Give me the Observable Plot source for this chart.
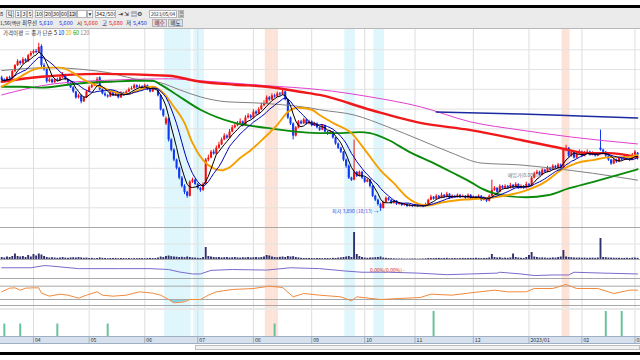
<!DOCTYPE html>
<html><head><meta charset="utf-8">
<script src="https://cdn.jsdelivr.net/npm/d3@7"></script>
<script src="https://cdn.jsdelivr.net/npm/@observablehq/plot@0.6"></script>
<style>
html,body{margin:0;padding:0;background:#fff;}
#root{position:relative;width:640px;height:360px;overflow:hidden;font-family:"Noto Sans CJK KR","DejaVu Sans",sans-serif;color:#222;}
#root svg{position:absolute;left:0;}
.a{position:absolute;white-space:nowrap;font-size:5.5px;line-height:8px;z-index:5;}
.bx{position:absolute;top:10px;height:8px;box-sizing:border-box;border:1px solid #b4b4b4;background:#f7f7f7;font-size:5.5px;line-height:6px;text-align:center;white-space:nowrap;z-index:5;overflow:hidden;}
.sep{position:absolute;left:0;width:640px;height:1px;z-index:4;}
</style></head>
<body><div id="root">
<div style="position:absolute;left:0;top:5px;width:640px;height:3px;background:#000"></div>
<div style="position:absolute;left:0;top:8px;width:640px;height:20px;background:#ebebeb"></div>
<span class="a" style="left:0;top:10px">8</span>
<div class="bx" style="left:6px;width:8px">틱</div>
<div class="bx" style="left:15px;width:6px">1</div>
<div class="bx" style="left:21px;width:6px">3</div>
<div class="bx" style="left:27px;width:6px">5</div>
<div class="bx" style="left:35px;width:8px">10</div>
<div class="bx" style="left:44px;width:8px">20</div>
<div class="bx" style="left:52px;width:8px">30</div>
<div class="bx" style="left:60px;width:8px">60</div>
<div class="bx" style="left:68px;width:9px;background:#e2e2e2">120</div>
<div class="bx" style="left:77px;width:10px;background:#fff"></div>
<div class="bx" style="left:87px;width:6px">▾</div>
<div class="bx" style="left:95px;width:21px;background:#fff">342/500</div>
<span class="a" style="left:118px;top:10px;font-size:6px">⇥</span>
<span class="a" style="left:124px;top:10px;font-size:6px">⇲</span>
<span class="a" style="left:131px;top:10px;font-size:6px">▤</span>
<span class="a" style="left:137px;top:10px;font-size:6px">⚙</span>
<div class="bx" style="left:149px;width:28px;background:#fff;font-size:4.8px;letter-spacing:-0.1px">2023/05/04</div>
<div class="bx" style="left:178px;width:6px">▦</div>
<span class="a" style="left:0px;top:19px;font-size:5px">1,56(백만</span>
<span class="a" style="left:22px;top:19px">최우선</span>
<span class="a" style="left:39px;top:19px;color:#1030e0">5,610</span>
<span class="a" style="left:59px;top:19px;color:#1030e0">5,600</span>
<span class="a" style="left:77px;top:19px">시</span>
<span class="a" style="left:84px;top:19px;color:#e01010">5,660</span>
<span class="a" style="left:102px;top:19px">고</span>
<span class="a" style="left:109px;top:19px;color:#e01010">5,680</span>
<span class="a" style="left:126px;top:19px">저</span>
<span class="a" style="left:133px;top:19px;color:#1030e0">5,450</span>
<div class="bx" style="left:152px;top:19px;width:15px;background:#f6d3dc">매수</div>
<div class="bx" style="left:168px;top:19px;width:15px;background:#cfe3f6">매도</div>
<span class="a" style="left:3px;top:29px;color:#333">가격이평 ≡ 종가 단순 <span style="color:#000">5</span> <span style="color:#0000d0">10</span> <span style="color:#e89a00">20</span> <span style="color:#00a000">60</span> <span style="color:#888">120</span></span>
<div class="sep" style="top:28px;background:#b8b8b8"></div>
<div class="sep" style="top:227px;background:#a8a8a8"></div>
<div class="sep" style="top:259px;background:#a8a8a8"></div>
<div class="sep" style="top:278px;background:#a8a8a8"></div>
<div class="sep" style="top:305px;background:#a8a8a8"></div>
<div style="position:absolute;left:0;top:336px;width:640px;height:8px;box-sizing:border-box;background:#d7e1ed;border-top:1px solid #9fb0c6;border-bottom:1px solid #9fb0c6"></div>
<div style="position:absolute;left:195px;top:345px;width:445px;height:5px;box-sizing:border-box;border:1px solid #bdbdbd;background:#f2f2f2"></div>
<div style="position:absolute;left:0;top:352px;width:640px;height:3px;background:#000"></div>
</div>
<script>
// ---------- data ----------
const monthIdx = [12,33,54,74,95,117,137,156,178,199,219,239];
const monthLabels = ["04","05","06","07","08","09","10","11","12","2023/01","02","03"];
const priceGrid = [4000,4600,5200,5800,6400,7000,7600,8200,8800];

const open = [
7950,7890,7830,7950,7920,8140,8320,8440,8380,8500,
8440,8620,8690,8750,8720,8900,8320,8200,7830,7890,
7800,7890,7860,7950,8040,7890,7770,7650,7520,7340,
7400,7220,7340,7520,7650,7710,7770,7950,7590,7460,
7400,7370,7520,7400,7460,7340,7490,7430,7520,7590,
7620,7710,7650,7680,7620,7710,7590,7520,7650,7590,
7400,6980,6550,6700,6060,5750,5450,5200,4900,4650,
4470,4350,4780,4840,4710,4590,4530,4710,5450,5510,
5690,5630,5810,5910,6060,6180,6120,6300,6430,6490,
6550,6610,6490,6730,6790,6730,6910,6850,6980,7100,
7160,7340,7280,7400,7370,7460,7430,7520,7280,6730,
6550,6180,6430,6610,6550,6670,6550,6610,6490,6550,
6430,6360,6490,6300,6240,6300,6120,5940,5810,5690,
5450,5260,4900,4840,5080,4960,5080,4900,4780,4840,
4650,4350,4230,4100,3980,4160,4290,4230,4130,4200,
4100,4130,4070,4100,4040,4070,4040,4070,4040,4070,
4040,4100,4230,4320,4260,4350,4290,4380,4320,4410,
4290,4350,4320,4380,4320,4350,4290,4380,4260,4320,
4290,4350,4230,4290,4200,4350,4530,4590,4470,4650,
4590,4650,4590,4680,4620,4710,4590,4650,4590,4710,
4650,4900,5020,5080,4990,5140,5080,5200,5140,5260,
5200,5300,5200,5750,5810,5570,5690,5510,5630,5690,
5570,5660,5690,5600,5660,5570,5810,5750,5690,5570,
5450,5330,5450,5390,5510,5450,5540,5480,5450,5600,
5660];
const high = [
8000,7920,7980,8000,8170,8350,8500,8470,8560,8530,
8660,8750,8800,8810,9000,8950,8380,8230,7950,7920,
7930,7940,8000,8110,8060,7910,7800,7680,7540,7450,
7420,7380,7560,7700,7760,7800,7960,7980,7620,7500,
7440,7560,7540,7500,7480,7530,7510,7560,7640,7680,
7760,7740,7730,7710,7760,7730,7620,7680,7670,7610,
7420,7000,6760,6720,6100,5800,5480,5230,4950,4700,
4500,4820,4900,4870,4740,4620,4760,5500,5600,5740,
5760,5880,5990,6120,6250,6220,6380,6500,6560,6620,
6700,6640,6800,6860,6830,6980,6950,7040,7180,7250,
7400,7380,7460,7450,7520,7500,7590,7550,7300,6760,
6580,6470,6650,6660,6720,6700,6660,6640,6600,6580,
6460,6530,6510,6330,6350,6320,6140,5970,5840,5710,
5480,5300,4930,6060,5100,5120,5110,4930,4880,4860,
4670,4380,4260,4140,4200,4330,4310,4250,4230,4220,
4160,4150,4130,4120,4100,4090,4100,4090,4100,4090,
4140,4260,4380,4340,4400,4370,4450,4400,4470,4430,
4390,4380,4420,4400,4390,4370,4420,4400,4360,4350,
4390,4370,4330,4310,4390,4840,4640,4610,4700,4680,
4700,4680,4740,4710,4760,4730,4700,4680,4780,4740,
4950,5080,5140,5110,5190,5170,5260,5230,5310,5290,
5350,5330,5810,5900,5830,5740,5710,5680,5760,5720,
5710,5760,5720,5700,5680,5680,6360,5780,5710,5600,
5470,5490,5480,5550,5540,5590,5560,5510,5650,5740,
5680];
const low = [
7850,7800,7810,7890,7900,8100,8290,8330,8350,8400,
8420,8580,8650,8680,8700,8250,8150,7780,7800,7760,
7780,7820,7840,7920,7860,7740,7620,7480,7300,7310,
7160,7200,7320,7500,7620,7680,7750,7560,7430,7370,
7330,7350,7380,7380,7310,7320,7400,7410,7500,7570,
7600,7620,7630,7590,7600,7560,7490,7500,7560,7370,
6940,6750,6500,6000,5700,5400,5150,4850,4600,4400,
4290,4330,4740,4680,4550,4470,4500,4700,5400,5490,
5600,5600,5780,5890,6040,6080,6100,6280,6400,6460,
6520,6460,6470,6700,6690,6710,6810,6830,6960,7070,
7140,7240,7260,7330,7350,7390,7410,7250,6680,6500,
6060,6150,6400,6520,6530,6510,6520,6460,6470,6400,
6320,6340,6270,6200,6220,6090,5900,5770,5650,5400,
5200,4860,4800,4820,4920,4940,4860,4740,4760,4600,
4310,4190,4050,3890,3960,4140,4200,4100,4110,4070,
4080,4040,4050,4010,4020,4010,4020,4010,4020,4000,
4020,4080,4210,4230,4240,4260,4270,4290,4300,4250,
4270,4290,4300,4290,4300,4250,4270,4220,4240,4260,
4270,4190,4210,4160,4180,4330,4500,4440,4450,4560,
4570,4560,4570,4590,4600,4560,4570,4560,4570,4620,
4640,4880,5000,4960,4970,5050,5060,5110,5120,5170,
5180,5170,5180,5700,5520,5540,5480,5490,5600,5540,
5550,5630,5570,5580,5540,5550,5720,5660,5530,5410,
5290,5310,5350,5370,5420,5430,5450,5410,5430,5580,
5450];
const close = [
7890,7830,7950,7920,8140,8320,8440,8380,8500,8440,
8620,8690,8750,8720,8870,8320,8200,7830,7890,7800,
7890,7860,7950,8040,7890,7770,7650,7520,7340,7400,
7220,7340,7520,7650,7710,7770,7890,7590,7460,7400,
7370,7520,7400,7460,7340,7490,7430,7520,7590,7620,
7710,7650,7680,7620,7710,7590,7520,7650,7590,7400,
6980,6790,6700,6060,5750,5450,5200,4900,4650,4470,
4350,4780,4840,4710,4590,4530,4710,5450,5510,5690,
5630,5810,5910,6060,6180,6120,6300,6430,6490,6550,
6610,6490,6730,6790,6730,6910,6850,6980,7100,7160,
7340,7280,7400,7370,7460,7430,7520,7280,6730,6550,
6180,6430,6610,6550,6670,6550,6610,6490,6550,6430,
6360,6490,6300,6240,6300,6120,5940,5810,5690,5450,
5260,4900,4840,5080,4960,5080,4900,4780,4840,4650,
4350,4230,4100,3980,4160,4290,4230,4130,4200,4100,
4130,4070,4100,4040,4070,4040,4070,4040,4070,4040,
4100,4230,4320,4260,4350,4290,4380,4320,4410,4290,
4350,4320,4380,4320,4350,4290,4380,4260,4320,4290,
4350,4230,4290,4200,4350,4530,4590,4470,4650,4590,
4650,4590,4680,4620,4710,4590,4650,4590,4710,4650,
4900,5020,5080,4990,5140,5080,5200,5140,5260,5200,
5300,5200,5750,5810,5570,5690,5510,5630,5690,5570,
5660,5690,5600,5660,5570,5630,5750,5690,5570,5450,
5330,5450,5390,5510,5450,5540,5480,5450,5600,5690,
5600];
const volume = [
300,250,350,300,400,650,400,350,400,300,
500,350,600,450,650,550,400,300,250,280,
250,220,260,300,240,220,260,280,250,300,
260,220,250,200,220,180,200,260,220,200,
180,200,190,210,180,200,190,180,200,170,
190,180,200,190,180,200,210,190,200,250,
350,300,400,450,380,350,330,300,320,280,
350,300,260,240,220,200,300,1300,400,350,
300,280,300,260,280,300,250,270,300,260,
240,280,260,300,250,280,300,260,300,350,
500,450,350,300,280,320,350,300,400,350,
380,300,260,220,200,210,190,200,180,190,
200,180,190,200,180,220,200,240,260,300,
350,400,300,2800,600,400,300,250,220,240,
260,280,300,350,250,220,200,180,170,160,
150,160,150,140,150,160,150,140,150,160,
170,200,180,190,200,210,190,200,220,180,
190,200,180,190,210,200,190,210,200,220,
210,190,200,210,250,600,300,250,280,220,
240,220,260,650,300,250,220,200,300,500,
800,350,300,250,260,240,220,230,260,240,
300,350,1000,350,300,280,260,240,250,230,
240,220,230,240,220,250,2200,300,280,250,
240,230,220,230,210,220,230,200,240,250,
220];

// moving averages (candle index, price)
const ma20Idx = [0,7,12,16,22,27,31,35,40,44,48,50,54,57,61,65,69,72,76,80,83,86,90,94,99,104,108,112,117,120,125,132,138,143,148,153,158,161,166,172,177,186,198,205,211,217,223,230,236,240];
const ma20 = [7680,7980,8200,8260,8260,8100,7890,7740,7590,7490,7460,7520,7650,7680,7490,7070,6580,5970,5450,5200,5140,5230,5510,5750,6120,6520,6910,7040,6980,6820,6580,6270,5660,5140,4750,4320,4100,4070,4160,4230,4260,4320,4530,4780,5140,5360,5450,5540,5540,5600];
const ma60Idx = [0,7,15,25,32,41,50,57,60,65,75,88,100,113,120,128,135,139,146,154,163,172,177,181,189,198,206,214,223,231,240];
const ma60 = [7680,7680,7650,7740,7800,7830,7860,7860,7740,7490,6980,6580,6430,6300,6270,6270,6300,6270,6060,5690,5360,4990,4780,4590,4380,4320,4380,4590,4780,4960,5170];
const ma120Idx = [0,18,31,40,50,60,67,75,85,95,106,116,120,133,146,158,170,181,196,208,223,240];
const ma120 = [8170,8260,8200,8110,7920,7800,7590,7370,7220,7190,7130,7040,6980,6820,6450,6060,5660,5360,5300,5200,5050,4840];
const redIdx = [0,15,37,63,75,88,100,113,120,139,158,177,196,211,221,229,240];
const redLine = [7830,7980,8070,8010,7830,7740,7680,7520,7430,6980,6580,6360,6060,5810,5660,5660,5540];
const pinkIdx = [0,20,45,63,75,100,120,139,158,177,196,215,240];
const pinkLine = [7430,7770,7890,7920,7860,7710,7590,7370,7070,6610,6360,6150,5940];
const navyIdx = [164,196,218,240];
const navyLine = [6910,6850,6790,6730];

// sub-indicators
const purpleIdx = [0,11,16,18,29,44,56,63,67,72,75,79,87,100,109,120,130,136,146,157,168,177,187,188,196,201,208,214,216,227,240];
const purple = [62,62,77,75,56,56,56,50,33,19,19,44,50,46,62,56,39,31,31,25,14,19,25,31,19,8,12,12,31,25,19];
const rsiIdx = [0,3,5,7,9,12,14,15,18,22,25,29,32,36,38,42,47,52,57,60,63,65,69,71,75,78,81,87,95,101,106,110,114,120,128,132,134,143,150,158,162,170,177,186,191,198,201,208,213,217,225,231,237,240];
const rsi = [53,64,65,58,64,65,65,49,40,46,43,34,43,53,43,40,43,53,49,43,30,20,23,30,30,43,53,60,63,70,66,38,48,43,38,26,38,30,33,36,46,43,50,58,53,53,63,63,75,63,63,48,58,58];
const rsiLevels = [70,30];
const signalIdx = [1,7,21,40,103,163,228,234];
const signalLevel = [1,1,1,1,1,2,2,2];

// highlighted periods (candle index ranges)
const cyanStart = [62,73,130,141], cyanEnd = [71,76,133,144];
const pinkStart = [100,103,212], pinkEnd = [102,104,214];

const lowLabel = "최저 3,890 (10/13) →";
const lowAt = {i: 143, p: 3890};

// ---------- build ----------
const root = document.getElementById("root");
const FONT = '"Noto Sans CJK KR","DejaVu Sans",sans-serif';
const n = Math.min(open.length, high.length, low.length, close.length, volume.length);
const rows = d3.range(n).map(i => ({i, o: open[i], h: high[i], l: low[i], c: close[i], v: volume[i]}));
const up = rows.filter(d => d.c >= d.o), dn = rows.filter(d => d.c < d.o);
const ser = (idx, val) => idx.map((i, k) => ({i, v: val[k]}));
const cyanB = cyanStart.map((s, k) => ({s, e: cyanEnd[k]}));
const pinkB = pinkStart.map((s, k) => ({s, e: pinkEnd[k]}));

const bandMarks = () => [
  Plot.rect(cyanB, {x1: d => d.s - 0.5, x2: d => d.e + 0.5, fill: "#dff6fc"}),
  Plot.rect(pinkB, {x1: d => d.s - 0.5, x2: d => d.e + 0.5, fill: "#fde2d8"}),
  Plot.ruleX(monthIdx, {stroke: "#dedede", strokeWidth: 1})
];

function addPlot(top, height, yDomain, marks) {
  const el = Plot.plot({
    width: 640, height, margin: 0,
    x: {domain: [-0.45, 241.1], axis: null},
    y: {domain: yDomain, axis: null},
    style: {background: "none", fontFamily: FONT},
    marks
  });
  el.style.position = "absolute"; el.style.left = "0px"; el.style.top = top + "px";
  root.appendChild(el);
}

// price panel
addPlot(28, 199, [3401, 9448], [
  ...bandMarks(),
  Plot.ruleY(priceGrid, {stroke: "#e2e2e2"}),
  Plot.ruleX(up, {x: "i", y1: "l", y2: "h", stroke: "#f01010", strokeWidth: 1, clip: true}),
  Plot.ruleX(dn, {x: "i", y1: "l", y2: "h", stroke: "#1038f0", strokeWidth: 1, clip: true}),
  Plot.ruleX(up, {x: "i", y1: "o", y2: "c", stroke: "#f01010", strokeWidth: 2.1, clip: true}),
  Plot.ruleX(dn, {x: "i", y1: "o", y2: "c", stroke: "#1038f0", strokeWidth: 2.1, clip: true}),
  Plot.line(ser(ma120Idx, ma120), {x: "i", y: "v", stroke: "#808080", strokeWidth: 1, curve: "monotone-x", clip: true}),
  Plot.line(ser(pinkIdx, pinkLine), {x: "i", y: "v", stroke: "#e040d0", strokeWidth: 1, curve: "monotone-x", clip: true}),
  Plot.line(ser(navyIdx, navyLine), {x: "i", y: "v", stroke: "#1a2aa0", strokeWidth: 1.4, curve: "monotone-x", clip: true}),
  Plot.line(ser(redIdx, redLine), {x: "i", y: "v", stroke: "#f01818", strokeWidth: 2.4, curve: "monotone-x", clip: true}),
  Plot.line(ser(ma60Idx, ma60), {x: "i", y: "v", stroke: "#0a8a0a", strokeWidth: 1.9, curve: "monotone-x", clip: true}),
  Plot.line(ser(ma20Idx, ma20), {x: "i", y: "v", stroke: "#f5a000", strokeWidth: 1.9, curve: "monotone-x", clip: true}),
  Plot.line(rows, Plot.windowY({k: 10, anchor: "end", reduce: "mean"}, {x: "i", y: "c", stroke: "#0000b8", strokeWidth: 1, clip: true})),
  Plot.line(rows, Plot.windowY({k: 5, anchor: "end", reduce: "mean"}, {x: "i", y: "c", stroke: "#000", strokeWidth: 1, clip: true})),
  Plot.text([lowAt], {x: "i", y: "p", text: () => lowLabel, textAnchor: "end", dx: -2, fontSize: 5, fill: "#2a4ee0", fontFamily: FONT}),
  Plot.text([{i: 191, p: 4990}], {x: "i", y: "p", text: () => "매입가(0.00%)", textAnchor: "start", fontSize: 5, fill: "#777", fontFamily: FONT})
]);

// volume panel
addPlot(227, 33, [0, 3300], [
  ...bandMarks(),
  Plot.ruleY([1650], {stroke: "#e2e2e2"}),
  Plot.ruleX(rows, {x: "i", y1: 0, y2: "v", stroke: "#30306e", strokeWidth: 1.9})
]);

// purple indicator panel
addPlot(260, 18, [-12.5, 112.5], [
  ...bandMarks(),
  Plot.line(ser(purpleIdx, purple), {x: "i", y: "v", stroke: "#7a6acb", strokeWidth: 1}),
  Plot.text([{i: 139, v: 44}], {x: "i", y: "v", text: () => "0.00%(0.00%) -", textAnchor: "start", fontSize: 5, fill: "#e02020", fontFamily: FONT})
]);

// oscillator panel
addPlot(278, 28, [9, 93], [
  ...bandMarks(),
  Plot.areaY(ser(rsiIdx, rsi), {x: "i", y1: 30, y2: d => Math.min(d.v, 30), fill: "#7fcfe6"}),
  Plot.ruleY(rsiLevels, {stroke: "#a8a8a8"}),
  Plot.line(ser(rsiIdx, rsi), {x: "i", y: "v", stroke: "#f28a3c", strokeWidth: 1})
]);

// signal panel
addPlot(306, 30, [0, 2.4], [
  ...bandMarks(),
  Plot.ruleY([2.2], {stroke: "#e8e8e8", strokeWidth: 2}),
  Plot.ruleX(ser(signalIdx, signalLevel), {x: "i", y1: 0, y2: "v", stroke: "#66c49c", strokeWidth: 2})
]);

// x axis band
addPlot(336, 8, [0, 1], [
  Plot.ruleX(monthIdx, {stroke: "#9fb0c6"}),
  Plot.text(monthIdx, {x: d => d, y: () => 0.5, text: (d, k) => monthLabels[k], textAnchor: "start", dx: 1.5, fontSize: 5.2, fill: "#333", fontFamily: FONT})
]);
</script>
</body></html>
